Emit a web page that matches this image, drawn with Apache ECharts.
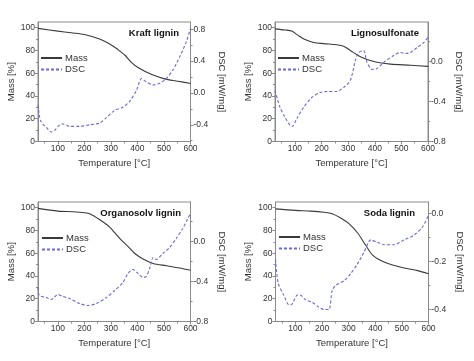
<!DOCTYPE html>
<html><head><meta charset="utf-8">
<script src="https://cdn.jsdelivr.net/npm/echarts@6/dist/echarts.min.js"></script>
<style>html,body{margin:0;padding:0;background:#fff}#c{width:474px;height:361px}</style>
</head><body><div id="c"></div>
<script>
// ---- data ----
const panelTitles = ['Kraft lignin', 'Lignosulfonate', 'Organosolv lignin', 'Soda lignin'];
const xTicks = [100, 200, 300, 400, 500, 600];
const xMinorTicks = [50, 150, 250, 350, 450, 550];
const massTicks = [0, 20, 40, 60, 80, 100];
const massMinorTicks = [10, 30, 50, 70, 90];

const kraftMassT = [25, 100, 150, 200, 257, 300, 325, 352, 375, 402, 452, 502, 552, 600];
const kraftMass  = [99.4, 97, 95.5, 94, 90, 85, 81, 76, 70, 65, 59, 55, 53, 51];
const kraftDscT = [25, 30, 35, 45, 56, 75, 88, 107, 119, 144, 182, 220, 257, 283, 314, 345, 370, 396, 415, 433, 458, 484, 509, 534, 559, 584, 600];
const kraftDsc  = [-0.15, -0.28, -0.35, -0.40, -0.43, -0.49, -0.47, -0.40, -0.39, -0.42, -0.42, -0.40, -0.38, -0.31, -0.22, -0.18, -0.11, 0.03, 0.18, 0.14, 0.10, 0.12, 0.18, 0.29, 0.45, 0.64, 0.81];
const kraftDscTicks = [-0.4, 0.0, 0.4, 0.8];
const kraftDscMinor = [-0.6, -0.2, 0.2, 0.6];

const lignoMassT = [25, 63, 88, 113, 138, 170, 207, 257, 283, 308, 339, 371, 408, 459, 534, 600];
const lignoMass  = [99, 98, 97, 93, 89.6, 87, 86, 85, 83.7, 80, 75.4, 72, 69.6, 68, 67, 66];
const lignoDscT = [25, 44, 63, 82, 90, 107, 132, 163, 195, 220, 257, 283, 308, 327, 339, 358, 371, 390, 408, 433, 471, 496, 515, 534, 559, 584, 600];
const lignoDsc  = [-0.29, -0.46, -0.56, -0.64, -0.65, -0.57, -0.46, -0.36, -0.31, -0.30, -0.30, -0.26, -0.19, 0.01, 0.09, 0.11, -0.01, -0.08, -0.07, -0.01, 0.06, 0.09, 0.08, 0.09, 0.14, 0.19, 0.24];
const lignoDscTicks = [-0.8, -0.4, 0.0, 0.4];
const lignoDscMinor = [-0.6, -0.2, 0.2];

const organoMassT = [25, 100, 157, 200, 220, 257, 295, 333, 364, 389, 421, 459, 509, 559, 600];
const organoMass  = [99.4, 97, 96.4, 95.6, 94.7, 89.6, 83, 73, 66, 60, 55, 51, 49, 47, 45];
const organoDscT = [25, 30, 56, 75, 100, 119, 144, 182, 213, 245, 283, 314, 345, 364, 383, 402, 421, 433, 446, 459, 471, 496, 521, 546, 571, 590, 600];
const organoDsc  = [-0.46, -0.54, -0.56, -0.58, -0.53, -0.55, -0.57, -0.62, -0.64, -0.62, -0.56, -0.49, -0.41, -0.32, -0.28, -0.32, -0.36, -0.35, -0.27, -0.16, -0.18, -0.12, -0.06, 0.03, 0.13, 0.23, 0.28];
const organoDscTicks = [-0.8, -0.4, 0.0, 0.4];
const organoDscMinor = [-0.6, -0.2, 0.2];

const sodaMassT = [25, 100, 157, 207, 238, 270, 301, 333, 364, 389, 421, 459, 509, 559, 600];
const sodaMass  = [99, 97.6, 97, 96, 94.7, 91, 86, 78, 67, 58.6, 53.6, 50, 47, 44.7, 42];
const sodaDscT = [25, 35, 56, 75, 84, 107, 119, 138, 163, 188, 207, 226, 238, 251, 283, 308, 333, 358, 383, 408, 433, 471, 509, 546, 578, 600];
const sodaDsc  = [-0.19, -0.29, -0.34, -0.38, -0.38, -0.34, -0.34, -0.36, -0.37, -0.39, -0.40, -0.40, -0.32, -0.30, -0.28, -0.25, -0.21, -0.16, -0.11, -0.12, -0.13, -0.13, -0.11, -0.09, -0.055, -0.007];
const sodaDscTicks = [-0.4, -0.2, 0.0];
const sodaDscMinor = [-0.3, -0.1];

// ---- layout / style ----
const FONT = 'Liberation Sans, Arial, sans-serif';
const FRAME = '#8a8a8a';
const TXT = '#333';
const MASS_C = '#3a3a3a';
const DSC_C = '#6a6ad8';

const panels = [
  {title: panelTitles[0], grid: {left: 38, top: 22, width: 152.5, height: 119.5}, dscRange: [-0.61, 0.89], dscTicks: kraftDscTicks, dscMinor: kraftDscMinor, mT: kraftMassT, m: kraftMass, dT: kraftDscT, d: kraftDsc, legend: {left: 40, top: 53}, titleRight: 290, titleTop: 23},
  {title: panelTitles[1], grid: {left: 275, top: 22, width: 153, height: 119.5}, dscRange: [-0.8, 0.395], dscTicks: lignoDscTicks, dscMinor: lignoDscMinor, mT: lignoMassT, m: lignoMass, dT: lignoDscT, d: lignoDsc, legend: {left: 277, top: 53}, titleRight: 50, titleTop: 23},
  {title: panelTitles[2], grid: {left: 38, top: 202, width: 152.5, height: 119.5}, dscRange: [-0.8, 0.395], dscTicks: organoDscTicks, dscMinor: organoDscMinor, mT: organoMassT, m: organoMass, dT: organoDscT, d: organoDsc, legend: {left: 41, top: 233}, titleRight: 288, titleTop: 203},
  {title: panelTitles[3], grid: {left: 275.5, top: 202, width: 153, height: 119.5}, dscRange: [-0.45, 0.048], dscTicks: sodaDscTicks, dscMinor: sodaDscMinor, mT: sodaMassT, m: sodaMass, dT: sodaDscT, d: sodaDsc, legend: {left: 278, top: 232}, titleRight: 54, titleTop: 203}
];

const grids = [], xAxes = [], yAxes = [], series = [], legends = [], titles = [];
const lbl = {color: TXT, fontSize: 8.5, fontFamily: FONT};
panels.forEach((p, i) => {
  grids.push(Object.assign({show: true, borderColor: FRAME, borderWidth: 1, containLabel: false}, p.grid));
  const xi = xAxes.length;
  xAxes.push({
    type: 'value', gridIndex: i, min: 25, max: 600, position: 'bottom',
    name: 'Temperature [°C]', nameLocation: 'middle', nameGap: 17,
    nameTextStyle: {color: TXT, fontSize: 9.5, fontFamily: FONT},
    axisLine: {show: true, lineStyle: {color: FRAME}},
    axisTick: {show: true, length: 3, customValues: xTicks, lineStyle: {color: FRAME}},
    axisLabel: Object.assign({customValues: xTicks, margin: 3}, lbl),
    splitLine: {show: false}
  });
  xAxes.push({
    type: 'value', gridIndex: i, min: 25, max: 600, position: 'bottom',
    axisLine: {show: false}, axisLabel: {show: false}, splitLine: {show: false},
    axisTick: {show: true, length: 2, customValues: xMinorTicks, lineStyle: {color: FRAME}}
  });
  const yi = yAxes.length;
  yAxes.push({
    type: 'value', gridIndex: i, min: 0, max: 105, position: 'left',
    name: 'Mass [%]', nameLocation: 'middle', nameGap: 22, nameRotate: 90,
    nameTextStyle: {color: TXT, fontSize: 9.5, fontFamily: FONT},
    axisLine: {show: true, lineStyle: {color: FRAME}},
    axisTick: {show: true, length: 3, customValues: massTicks, lineStyle: {color: FRAME}},
    axisLabel: Object.assign({customValues: massTicks, margin: 3}, lbl),
    splitLine: {show: false}
  });
  yAxes.push({
    type: 'value', gridIndex: i, min: 0, max: 105, position: 'left',
    axisLine: {show: false}, axisLabel: {show: false}, splitLine: {show: false},
    axisTick: {show: true, length: 2, customValues: massMinorTicks, lineStyle: {color: FRAME}}
  });
  yAxes.push({
    type: 'value', gridIndex: i, min: p.dscRange[0], max: p.dscRange[1], position: 'right',
    name: 'DSC [mW/mg]', nameLocation: 'middle', nameGap: 26, nameRotate: -90,
    nameTextStyle: {color: TXT, fontSize: 9.5, fontFamily: FONT},
    axisLine: {show: true, lineStyle: {color: FRAME}},
    axisTick: {show: true, length: 3, customValues: p.dscTicks, lineStyle: {color: FRAME}},
    axisLabel: Object.assign({customValues: p.dscTicks, margin: 3, formatter: v => v.toFixed(1)}, lbl),
    splitLine: {show: false}
  });
  yAxes.push({
    type: 'value', gridIndex: i, min: p.dscRange[0], max: p.dscRange[1], position: 'right',
    axisLine: {show: false}, axisLabel: {show: false}, splitLine: {show: false},
    axisTick: {show: true, length: 2, customValues: p.dscMinor, lineStyle: {color: FRAME}}
  });
  series.push({
    type: 'line', name: 'Mass', xAxisIndex: xi, yAxisIndex: yi, symbol: 'none', smooth: 0.3,
    data: p.mT.map((t, k) => [t, p.m[k]]),
    lineStyle: {color: MASS_C, width: 1.1}, itemStyle: {color: MASS_C}
  });
  series.push({
    type: 'line', name: 'DSC', xAxisIndex: xi, yAxisIndex: yi + 2, symbol: 'none', smooth: 0.25,
    data: p.dT.map((t, k) => [t, p.d[k]]),
    lineStyle: {color: DSC_C, width: 1.1, type: [3, 2]}, itemStyle: {color: DSC_C}
  });
  legends.push({
    left: p.legend.left, top: p.legend.top, orient: 'vertical', data: ['Mass', 'DSC'],
    itemWidth: 21, itemHeight: 9, itemGap: 1.5, selectedMode: false, padding: 0,
    itemStyle: {color: 'transparent', borderWidth: 0, opacity: 0},
    textStyle: {color: TXT, fontSize: 9.5, fontFamily: FONT, padding: [0, 0, 0, -2]}
  });
  titles.push({
    text: p.title, right: p.titleRight, top: p.titleTop,
    textStyle: {color: '#111', fontSize: 9.5, fontWeight: 'bold', fontFamily: FONT}
  });
});

const chart = echarts.init(document.getElementById('c'), null, {renderer: 'canvas'});
chart.setOption({
  animation: false, backgroundColor: '#fff',
  title: titles, legend: legends, grid: grids, xAxis: xAxes, yAxis: yAxes, series: series
});
</script></body></html>
